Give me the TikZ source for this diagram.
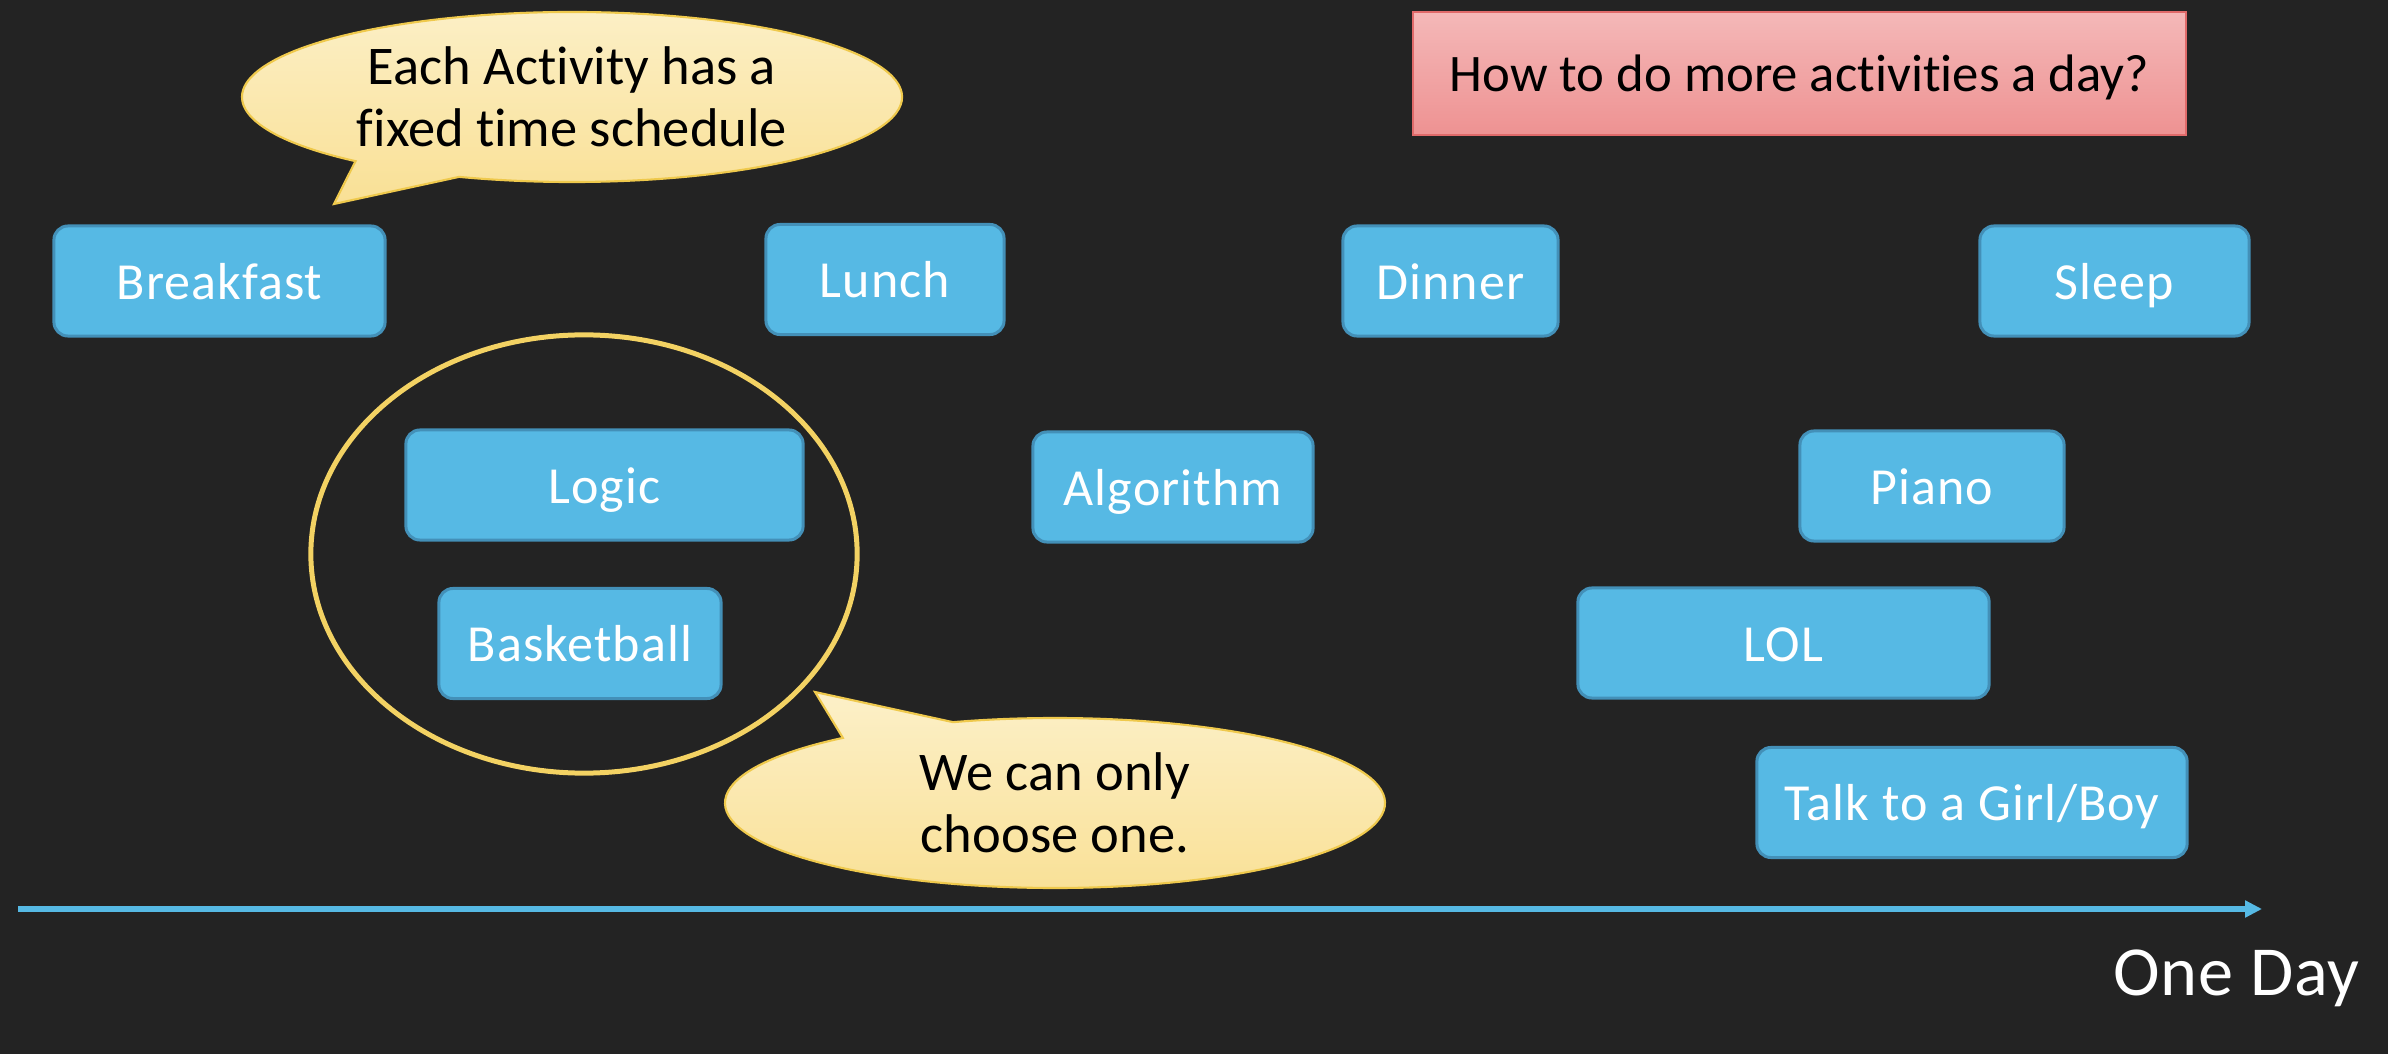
\documentclass[tikz,border=0pt]{standalone}
\usepackage{fontspec}
\setmainfont{Carlito}[Ligatures=NoCommon]
\usetikzlibrary{shapes.geometric,arrows.meta}
\definecolor{board}{HTML}{232323}
\definecolor{boxfill}{HTML}{56B9E4}
\definecolor{boxline}{HTML}{4390B8}
\definecolor{calltop}{HTML}{FCF0C8}
\definecolor{callbot}{HTML}{F9E095}
\definecolor{callline}{HTML}{EFC94C}
\definecolor{ringcol}{HTML}{F3D263}
\definecolor{pinktop}{HTML}{F4B8B8}
\definecolor{pinkbot}{HTML}{EE9292}
\definecolor{pinkline}{HTML}{E06A6A}
\definecolor{axiscol}{HTML}{56B9E4}
\begin{document}
\begin{tikzpicture}[x=0.01cm,y=0.01cm,
  actbox/.style={draw=boxline, line width=0.85pt, fill=boxfill, rounded corners=0.14cm,
    text=white, font=\fontsize{14.8}{17}\selectfont\addfontfeatures{LetterSpace=2}, minimum height=1.10cm,
    inner sep=0pt, text height=10.3pt, text depth=0pt},
  callshape/.style={top color=calltop, bottom color=callbot, draw=callline, line width=0.6pt},
  calltext/.style={align=center, text=black, inner sep=0pt, font=\fontsize{15.5}{17.6}\selectfont},
  ring/.style={ellipse, draw=ringcol, line width=1.42pt, inner sep=0pt},
  questionbox/.style={top color=pinktop, bottom color=pinkbot, draw=pinkline, line width=0.6pt,
    text=black, font=\fontsize{15}{18}\selectfont, inner sep=0pt, text height=10pt, text depth=0pt},
  timeline/.style={axiscol, line width=1.7pt, -{Triangle[length=4.8pt,width=4.6pt]}}
]
\useasboundingbox (0,0) rectangle (2388,1054);
\fill[board] (0,0) rectangle (2388,1054);

% group ring
\node[ring, minimum width=5.46cm, minimum height=4.38cm] (group) at (584,500) {};

% activity boxes
\node[actbox, minimum width=3.31cm] (breakfast) at (219.5,773) {Breakfast};
\node[actbox, minimum width=2.38cm] (lunch) at (885,774.5) {Lunch};
\node[actbox, minimum width=2.15cm] (dinner) at (1450.5,773) {Dinner};
\node[actbox, minimum width=2.69cm] (sleep) at (2114.5,773) {Sleep};
\node[actbox, minimum width=3.97cm] (logic) at (604.5,569) {Logic};
\node[actbox, minimum width=2.80cm] (algorithm) at (1173,567) {Algorithm};
\node[actbox, minimum width=2.64cm] (piano) at (1932,568) {Piano};
\node[actbox, minimum width=2.82cm] (basketball) at (580,410.5) {Basketball};
\node[actbox, minimum width=4.11cm] (lol) at (1783.5,411) {LOL};
\node[actbox, minimum width=4.30cm] (talk) at (1972,251.5) {Talk to a Girl/Boy};

% callouts
\path[callshape] (572,957) ++(250:330 and 85)
  arc[start angle=250, end angle=589, x radius=330, y radius=85] -- (334,850) -- cycle;
\node[calltext] (note1) at (572,957) {Each Activity has a\\fixed time schedule};

\path[callshape] (1055,251) ++(130:330 and 85)
  arc[start angle=130, end angle=468, x radius=330, y radius=85] -- (815,362) -- cycle;
\node[calltext] (note2) at (1055,251) {We can only\\choose one.};

% question box
\node[questionbox, minimum width=7.73cm, minimum height=1.23cm] (question) at (1799.5,980.5)
  {How to do more activities a day?};

% time axis
\coordinate (daystart) at (18,145);
\coordinate (dayend) at (2262,145);
\draw[timeline] (daystart) -- (dayend);
\node[anchor=base west, inner sep=0pt, text=white, font=\fontsize{20}{24}\selectfont\addfontfeatures{LetterSpace=1}] (oneday) at (2113,59) {One Day};
\end{tikzpicture}
\end{document}
